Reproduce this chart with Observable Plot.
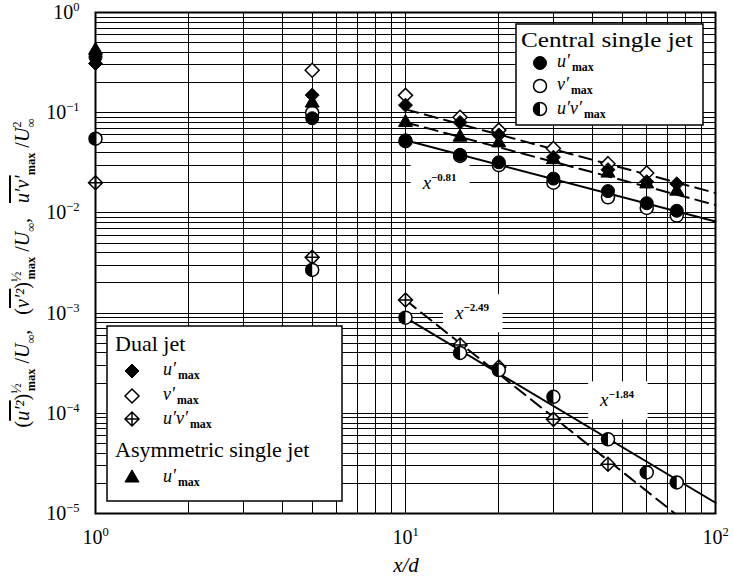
<!DOCTYPE html>
<html><head><meta charset="utf-8">
<script src="https://cdn.jsdelivr.net/npm/d3@7"></script>
<script src="https://cdn.jsdelivr.net/npm/@observablehq/plot@0.6"></script>
<style>
body{margin:0;background:#fff}
svg{font-family:"Liberation Serif","Times New Roman",serif}
</style>
</head><body><div id="chart"></div>
<script>
// ---------- data ----------
const xd        = [1, 5, 10, 15, 20, 30, 45, 60, 75];
// Central single jet
const centralU  = [0.36, 0.088, 0.053, 0.038, 0.032, 0.022, 0.0165, 0.0125, 0.0105];
const centralV  = [null, 0.10, 0.052, 0.037, 0.030, 0.020, 0.0143, 0.0112, 0.0094];
const centralUV = [0.055, 0.0027, 0.00090, 0.00040, 0.00027, 0.000146, 0.000055, 0.0000257, 0.0000204];
// Dual jet
const dualU     = [0.31, 0.15, 0.119, 0.080, 0.060, 0.036, 0.027, 0.0205, 0.0195];
const dualV     = [null, 0.265, 0.149, 0.090, 0.067, 0.044, 0.031, 0.025, null];
const dualUV    = [0.020, 0.0036, 0.00135, 0.00048, 0.00029, 0.000087, 0.000031, null, null];
// Asymmetric single jet
const asymU     = [0.42, 0.125, 0.080, 0.057, 0.050, 0.034, 0.025, 0.0195, 0.0165];

// fitted power-law lines (end points)
const fitX        = [10, 100];
const fitCentral  = [0.053, 0.0082];    // x^-0.81, solid
const fitUpper    = [0.108, 0.0158];    // dashed
const fitMiddle   = [0.080, 0.0120];    // dashed
const fitUV       = [0.00090, 0.0000128]; // x^-1.84, solid
const fitDualUVx  = [10, 74];
const fitDualUV   = [0.00135, 0.00001]; // x^-2.49, dashed

// annotations
const noteExp = ["\u22120.81", "\u22122.49", "\u22121.84"];
const noteX   = [11.4, 14.5, 42.6];
const noteY   = [0.0173, 0.00086, 0.000116];

// ticks
const xTickVals = [1, 10, 100];
const yTickVals = [1e-5, 1e-4, 1e-3, 1e-2, 1e-1, 1];
const mult = [1,2,3,4,5,6,7,8,9];
const xGrid = [1, 10].flatMap(d => mult.map(m => m * d)).filter(v => v > 1);
const yGrid = [1e-5, 1e-4, 1e-3, 1e-2, 1e-1].flatMap(d => mult.map(m => m * d)).filter(v => v > 1e-5);

// ---------- tables ----------
const rows = xd.map((x, i) => ({x, cu: centralU[i], cv: centralV[i], cuv: centralUV[i],
  du: dualU[i], dv: dualV[i], duv: dualUV[i], au: asymU[i]}));
const toLine = (xs, ys) => xs.map((x, i) => ({x, y: ys[i]}));

// ---------- custom symbols ----------
const halfLeft = {draw(ctx, size) {
  const r = Math.sqrt(size / Math.PI);
  ctx.moveTo(0, -r); ctx.arc(0, 0, r, -Math.PI / 2, Math.PI / 2, true); ctx.closePath();
}};
const crossDiamond = {draw(ctx, size) {
  const r = Math.sqrt(size) * 0.62625;
  ctx.moveTo(0, -r); ctx.lineTo(r, 0); ctx.lineTo(0, r); ctx.lineTo(-r, 0); ctx.closePath();
  ctx.moveTo(0, -r); ctx.lineTo(0, r); ctx.moveTo(-r, 0); ctx.lineTo(r, 0);
}};

const FONT = '"Liberation Serif","Times New Roman",serif';
const RC = 6.5, RD = 6.3, RT = 5.2;

const plot = Plot.plot({
  width: 733, height: 580,
  marginLeft: 95, marginRight: 18, marginTop: 12, marginBottom: 67,
  style: {fontFamily: FONT, fontSize: "20px", color: "#000", background: "#fff", overflow: "visible"},
  x: {type: "log", domain: [1, 100], ticks: xTickVals, tickFormat: d => String(Math.round(Math.log10(d))), tickSize: 0, tickPadding: 16, label: null},
  y: {type: "log", domain: [1e-5, 1], ticks: yTickVals, tickFormat: d => String(Math.round(Math.log10(d))), tickSize: 0, tickPadding: 16, label: null},
  marks: [
    Plot.gridX(xGrid, {stroke: "#000", strokeOpacity: 1, strokeWidth: 1, shapeRendering: "crispEdges"}),
    Plot.gridY(yGrid, {stroke: "#000", strokeOpacity: 1, strokeWidth: 1, shapeRendering: "crispEdges"}),
    Plot.line(toLine(fitX, fitCentral), {x: "x", y: "y", stroke: "#000", strokeWidth: 2}),
    Plot.line(toLine(fitX, fitUpper), {x: "x", y: "y", stroke: "#000", strokeWidth: 2, strokeDasharray: "13,7"}),
    Plot.line(toLine(fitX, fitMiddle), {x: "x", y: "y", stroke: "#000", strokeWidth: 2, strokeDasharray: "13,7"}),
    Plot.line(toLine(fitX, fitUV), {x: "x", y: "y", stroke: "#000", strokeWidth: 2}),
    Plot.line(toLine(fitDualUVx, fitDualUV), {x: "x", y: "y", stroke: "#000", strokeWidth: 2, strokeDasharray: "13,7"}),
    // markers
    Plot.dot(rows, {x: "x", y: "cv", r: RC, symbol: "circle", fill: "#fff", stroke: "#000", strokeWidth: 1.5}),
    Plot.dot(rows, {x: "x", y: "duv", r: RD, symbol: crossDiamond, fill: "#fff", stroke: "#000", strokeWidth: 1.5}),
    Plot.dot(rows, {x: "x", y: "cuv", r: RC, symbol: "circle", fill: "#fff", stroke: "#000", strokeWidth: 1.5}),
    Plot.dot(rows, {x: "x", y: "cuv", r: RC, symbol: halfLeft, fill: "#000", stroke: "none"}),
    Plot.dot(rows, {x: "x", y: "dv", r: RD, symbol: "diamond2", fill: "#fff", stroke: "#000", strokeWidth: 1.5}),
    Plot.dot(rows, {x: "x", y: "du", r: RD, symbol: "diamond2", fill: "#000", stroke: "#000", strokeWidth: 1}),
    Plot.dot(rows, {x: "x", y: "au", r: RT, symbol: "triangle", fill: "#000", stroke: "#000", strokeWidth: 1}),
    Plot.dot(rows, {x: "x", y: "cu", r: RC, symbol: "circle", fill: "#000", stroke: "#000", strokeWidth: 1}),
    Plot.frame({stroke: "#000", strokeWidth: 2})
  ]
});
document.getElementById("chart").appendChild(plot);

const svg = d3.select(plot);
const sx = plot.scale("x"), sy = plot.scale("y");

// tick labels as powers of ten
svg.selectAll('g[aria-label="x-axis tick label"] text, g[aria-label="y-axis tick label"] text').each(function () {
  const e = this.textContent.replace("-", "\u2212");
  const t = d3.select(this); t.text(null);
  t.append("tspan").text("10");
  t.append("tspan").attr("dy", -8).attr("font-size", 12.5).text(e);
});

// rich text helper
function rich(text, parts, base) {
  let cur = 0;
  for (const p of parts) {
    const target = p.s === "sup" ? -base * 0.42 : p.s === "sub" ? base * (p.sh || 0.28) : 0;
    const ts = text.append("tspan").attr("dy", target - cur).text(p.t);
    cur = target;
    if (p.s) ts.attr("font-size", base * (p.fs || 0.62));
    if (p.i) ts.attr("font-style", "italic");
    if (p.o) ts.attr("text-decoration", "overline");
    if (p.b) ts.attr("font-weight", "bold");
    if (p.dx) ts.attr("dx", p.dx);
  }
  return text;
}

// annotations with white backgrounds (under lines and markers)
const firstLine = plot.querySelector('g[aria-label="line"]');
const noteG = document.createElementNS("http://www.w3.org/2000/svg", "g");
plot.insertBefore(noteG, firstLine);
const NG = d3.select(noteG).attr("text-anchor", "start");
noteExp.forEach((e, i) => {
  const t = NG.append("text").attr("x", sx.apply(noteX[i])).attr("y", sy.apply(noteY[i])).attr("font-size", 19);
  rich(t, [{t: "x", i: 1}, {t: e, s: "sup", fs: 0.58, b: 1}], 19);
  const bb = t.node().getBBox();
  NG.insert("rect", "text").attr("x", bb.x - 11).attr("y", bb.y - 7).attr("width", bb.width + 24)
    .attr("height", bb.height + 16).attr("fill", "#fff");
});

// axis titles
rich(svg.append("text").attr("x", 406).attr("y", 572).attr("text-anchor", "middle").attr("font-size", 21),
  [{t: "x/d", i: 1}], 21);

const yt = svg.append("text").attr("transform", "translate(29,273) rotate(-90)").attr("text-anchor", "middle").attr("font-size", 20);
rich(yt, [
  {t: "("}, {t: "u\u2032\u00b2", i: 1, o: 1}, {t: ")"}, {t: "\u00bd", s: "sup", fs: 0.7}, {t: "max", s: "sub", dx: -8, b: 1},
  {t: " /", }, {t: "U", i: 1}, {t: "\u221e", s: "sub"},
  {t: ",   ("}, {t: "v\u2032\u00b2", i: 1, o: 1}, {t: ")"}, {t: "\u00bd", s: "sup", fs: 0.7}, {t: "max", s: "sub", dx: -8, b: 1},
  {t: " /"}, {t: "U", i: 1}, {t: "\u221e", s: "sub"},
  {t: ",   "}, {t: "u\u2032v\u2032", i: 1, o: 1}, {t: "max", s: "sub", b: 1},
  {t: " /"}, {t: "U", i: 1}, {t: "2", s: "sup"}, {t: "\u221e", s: "sub", dx: -6}
], 20);

// legends
const LG = svg.append("g").attr("text-anchor", "start");
function box(x, y, w, h) {
  LG.append("rect").attr("x", x).attr("y", y).attr("width", w).attr("height", h)
    .attr("fill", "#fff").attr("stroke", "#000").attr("stroke-width", 1.5);
}
function sym(type, r, x, y, fill, stroke, sw) {
  LG.append("path").attr("d", d3.symbol(type, Math.PI * r * r)()).attr("transform", `translate(${x},${y})`)
    .attr("fill", fill).attr("stroke", stroke).attr("stroke-width", sw);
}
function label(x, y, main) {
  rich(LG.append("text").attr("x", x).attr("y", y).attr("font-size", 18),
    [{t: main, i: 1}, {t: "max", s: "sub", fs: 0.66, b: 1, dx: 2, sh: 0.22}], 18);
}
function title(x, y, s, len) {
  const t = LG.append("text").attr("x", x).attr("y", y).attr("font-size", 22).text(s);
  if (len) t.attr("textLength", len).attr("lengthAdjust", "spacingAndGlyphs");
}
// Central single jet
box(516, 24, 187, 101);
title(521, 47, "Central single jet", 172);
sym(d3.symbolCircle, RC, 540, 63, "#000", "#000", 1); label(557, 67, "u\u2032");
sym(d3.symbolCircle, RC, 540, 86, "#fff", "#000", 1.5); label(557, 90, "v\u2032");
sym(d3.symbolCircle, RC, 540, 109, "#fff", "#000", 1.5); sym(halfLeft, RC, 540, 109, "#000", "none", 0);
label(557, 114, "u\u2032v\u2032");
// Dual jet + asymmetric
box(107, 326, 235, 175);
title(115, 351, "Dual jet");
sym(d3.symbolDiamond2, RD, 132, 371, "#000", "#000", 1); label(163, 375, "u\u2032");
sym(d3.symbolDiamond2, RD, 132, 396, "#fff", "#000", 1.5); label(163, 400, "v\u2032");
sym(crossDiamond, RD, 132, 419, "#fff", "#000", 1.5); label(163, 424, "u\u2032v\u2032");
title(115, 457, "Asymmetric single jet");
sym(d3.symbolTriangle, RT, 132, 478, "#000", "#000", 1); label(163, 482, "u\u2032");
</script></body></html>
